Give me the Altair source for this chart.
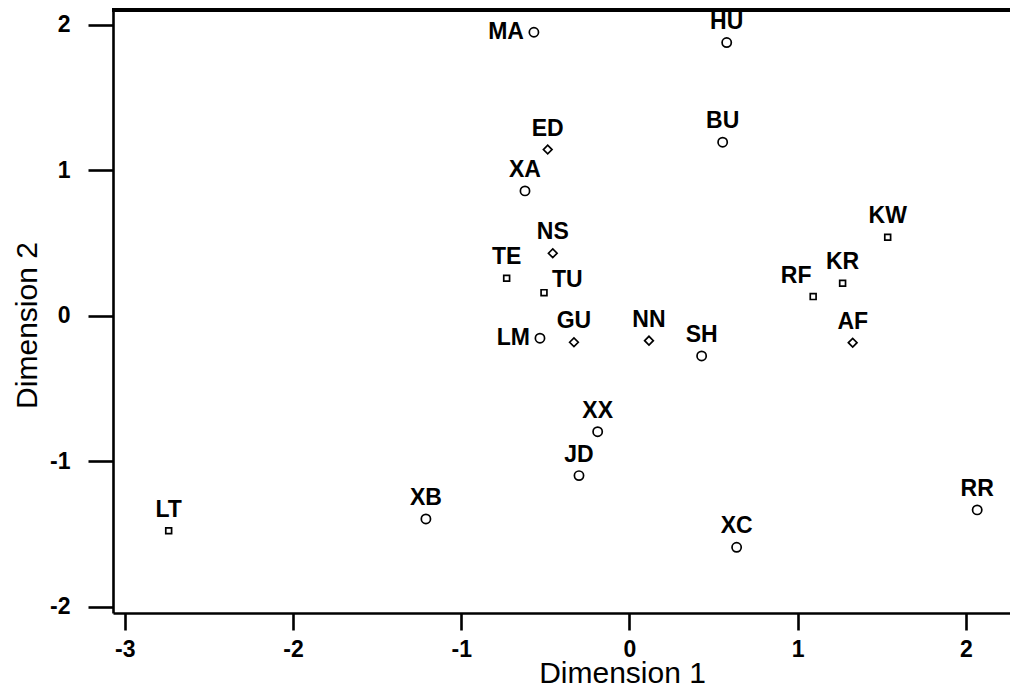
import altair as alt
import pandas as pd

labels = ["MA", "HU", "BU", "ED", "XA", "NS", "TE", "TU", "LM", "GU", "NN",
          "SH", "KW", "KR", "RF", "AF", "XX", "JD", "LT", "XB", "XC", "RR"]
dim1 = [-0.568, 0.578, 0.554, -0.486, -0.621, -0.456, -0.730, -0.508, -0.532,
        -0.330, 0.116, 0.429, 1.535, 1.267, 1.092, 1.327, -0.189, -0.300,
        -2.739, -1.210, 0.637, 2.067]
dim2 = [1.950, 1.879, 1.194, 1.143, 0.859, 0.430, 0.258, 0.159, -0.154,
        -0.182, -0.171, -0.276, 0.540, 0.224, 0.132, -0.185, -0.797, -1.099,
        -1.478, -1.397, -1.592, -1.335]
kind = ["circle", "circle", "circle", "diamond", "circle", "diamond", "square",
        "square", "circle", "diamond", "diamond", "circle", "square", "square",
        "square", "diamond", "circle", "circle", "square", "circle", "circle",
        "circle"]
placement = ["left", "top", "top", "top", "top", "top", "top", "right", "left",
             "top", "top", "top", "top", "top", "topleft", "top", "top", "top",
             "top", "top", "top", "top"]
x_ticks = [-3, -2, -1, 0, 1, 2]
y_ticks = [-2, -1, 0, 1, 2]

df = pd.DataFrame({"label": labels, "d1": dim1, "d2": dim2,
                   "kind": kind, "placement": placement})

FONT = "Liberation Sans"
W, H = 897, 603

x_scale = alt.Scale(domain=[-3.070, 2.262], nice=False, zero=False)
y_scale = alt.Scale(domain=[-2.044, 2.103], nice=False, zero=False)

common_axis = dict(
    grid=False, domainColor="black", domainWidth=2.6, tickColor="black",
    tickWidth=2.6, labelFont=FONT, labelFontSize=23, labelFontWeight="bold",
    labelColor="black", titleFont=FONT, titleFontSize=30,
    titleFontWeight="normal", titleColor="black", titleBaseline="alphabetic",
    titleAlign="center", labelFlush=False, labelExpr="datum.value + ''",
)

x_enc = alt.X("d1:Q", scale=x_scale, axis=alt.Axis(
    title="Dimension 1", values=x_ticks, tickSize=17, labelPadding=8,
    titleX=509, titleY=69, titleAnchor="start", **common_axis))
y_enc = alt.Y("d2:Q", scale=y_scale, axis=alt.Axis(
    title="Dimension 2", values=y_ticks, tickSize=25, labelPadding=18,
    titleX=-77, titleY=315, titleAngle=-90, **common_axis))


def point_layer(shape, size, axes=False):
    enc = dict(x=x_enc, y=y_enc) if axes else dict(
        x=alt.X("d1:Q", scale=x_scale), y=alt.Y("d2:Q", scale=y_scale))
    return alt.Chart(df).transform_filter(
        alt.datum.kind == shape
    ).mark_point(shape=shape, size=size, filled=False, strokeWidth=1.7,
                 opacity=1, color="black").encode(**enc)


circles = point_layer("circle", 85, axes=True)
squares = point_layer("square", 34)
diamonds = point_layer("diamond", 75)


def text_layer(where, **kw):
    return alt.Chart(df).transform_filter(
        alt.datum.placement == where
    ).mark_text(font=FONT, fontSize=23, fontWeight="bold", color="black",
                **kw).encode(
        x=alt.X("d1:Q", scale=x_scale), y=alt.Y("d2:Q", scale=y_scale),
        text="label:N")


top_txt = text_layer("top", align="center", baseline="alphabetic", dy=-14)
topleft_txt = text_layer("topleft", align="center", baseline="alphabetic",
                         dy=-14, dx=-17)
left_txt = text_layer("left", align="right", baseline="alphabetic", dy=7,
                      dx=-10)
right_txt = text_layer("right", align="left", baseline="alphabetic", dy=-6,
                       dx=8)

top_border = alt.Chart(df).mark_rule(color="black", strokeWidth=3).encode(
    x=alt.value(-1), x2=alt.value(W), y=alt.value(0))

chart = alt.layer(circles, top_border, squares, diamonds, top_txt,
                  topleft_txt, left_txt, right_txt).properties(
    width=W, height=H,
    autosize=alt.AutoSizeParams(type="none"),
    padding={"left": 113, "top": 10, "right": 0, "bottom": 74},
    background="white",
).configure_view(stroke=None)

chart.save("out.html", embed_options={"renderer": "svg", "actions": False})
